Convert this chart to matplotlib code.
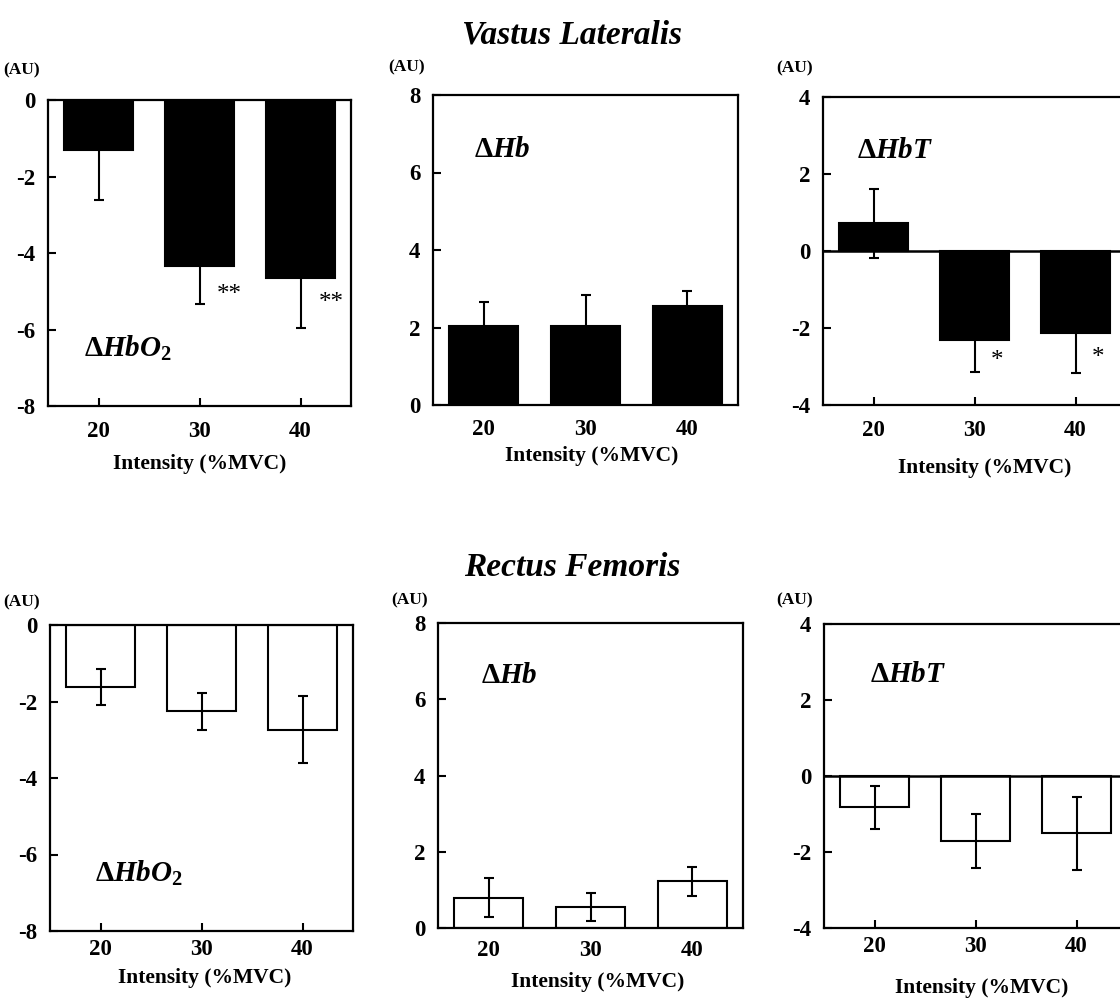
import numpy as np
import matplotlib.pyplot as plt

plt.rcParams['font.family'] = ['Liberation Serif', 'DejaVu Serif']
plt.rcParams['font.weight'] = 'bold'
plt.rcParams['mathtext.fontset'] = 'custom'
plt.rcParams['mathtext.rm'] = 'Liberation Serif:bold'
plt.rcParams['mathtext.it'] = 'Liberation Serif:bold:italic'
plt.rcParams['mathtext.bf'] = 'Liberation Serif:bold'

# intensities (%MVC)
intensity = [20, 30, 40]
tick_labels = ['20', '30', '40']

# Vastus Lateralis
vl_hbo2 = [-1.32, -4.33, -4.65]
vl_hbo2_err = [1.3, 1.0, 1.3]
vl_hb = [2.05, 2.05, 2.55]
vl_hb_err = [0.6, 0.78, 0.38]
vl_hbt = [0.72, -2.31, -2.13]
vl_hbt_err = [0.9, 0.83, 1.03]

# Rectus Femoris
rf_hbo2 = [-1.62, -2.26, -2.74]
rf_hbo2_err = [0.48, 0.48, 0.88]
rf_hb = [0.8, 0.55, 1.22]
rf_hb_err = [0.52, 0.36, 0.38]
rf_hbt = [-0.82, -1.71, -1.51]
rf_hbt_err = [0.57, 0.71, 0.96]

W, H = 1120, 998
fig = plt.figure(figsize=(W / 100, H / 100), dpi=100)


def px_rect(l, t, r, b):
    return [l / W, 1 - b / H, (r - l) / W, (b - t) / H]


def panel(rect, vals, errs, ylim, yticks, fill, label, label_xy, xlab_xy, au_xy, xpad, zero=False):
    ax = fig.add_axes(px_rect(*rect))
    ax.bar(intensity, vals, width=6.8, color=fill, edgecolor='black', linewidth=1.5, zorder=2)
    ax.errorbar(intensity, vals, yerr=errs, fmt='none', ecolor='black', elinewidth=1.5,
                capsize=3.5, capthick=1.5, zorder=3 if fill == 'white' else 1)
    if zero:
        ax.axhline(0, color='black', lw=1.8, zorder=4)
    ax.set_xlim(15, 45)
    ax.set_ylim(*ylim)
    ax.set_yticks(yticks)
    ax.set_yticklabels([str(t) for t in yticks])
    ax.set_xticks(intensity)
    ax.set_xticklabels(tick_labels)
    ax.tick_params(direction='in', length=6, width=1.5, labelsize=16.5, top=False, right=False)
    ax.tick_params(axis='x', pad=xpad)
    ax.tick_params(axis='y', pad=9)
    for s in ax.spines.values():
        s.set_linewidth(1.6)
    ax.text(label_xy[0], label_xy[1], label, fontsize=21, ha='left', va='center')
    fig.text(xlab_xy[0] / W, 1 - xlab_xy[1] / H, 'Intensity (%MVC)', fontsize=15.5,
             ha='center', va='center', fontweight='bold')
    fig.text(au_xy[0] / W, 1 - au_xy[1] / H, '(AU)', fontsize=12.5, ha='center', va='center',
             fontweight='bold')
    return ax


hbo2 = r'$\Delta HbO_2$'
hb = r'$\Delta Hb$'
hbt = r'$\Delta HbT$'

# top row: Vastus Lateralis (black bars)
a = panel((48, 100, 351, 406), vl_hbo2, vl_hbo2_err, (-8, 0), [0, -2, -4, -6, -8], 'black',
          hbo2, (18.6, -6.5), (200, 464), (22, 70), 11)
a.text(32.9, -5.1, '**', fontsize=18, fontweight='normal', ha='center', va='center')
a.text(43.0, -5.3, '**', fontsize=18, fontweight='normal', ha='center', va='center')

panel((433, 95, 738, 405), vl_hb, vl_hb_err, (0, 8), [0, 2, 4, 6, 8], 'black',
      hb, (19.0, 6.6), (592, 456), (407, 67), 10)

c = panel((823, 97, 1126, 405), vl_hbt, vl_hbt_err, (-4, 4), [-4, -2, 0, 2, 4], 'black',
          hbt, (18.4, 2.62), (985, 468), (795, 68), 11, zero=True)
c.text(32.2, -2.85, '*', fontsize=18, fontweight='normal', ha='center', va='center')
c.text(42.2, -2.77, '*', fontsize=18, fontweight='normal', ha='center', va='center')

# bottom row: Rectus Femoris (white bars)
panel((50, 625, 353, 931), rf_hbo2, rf_hbo2_err, (-8, 0), [0, -2, -4, -6, -8], 'white',
      hbo2, (19.5, -6.5), (205, 978), (22, 602), 6)
panel((438, 623, 743, 928), rf_hb, rf_hb_err, (0, 8), [0, 2, 4, 6, 8], 'white',
      hb, (19.2, 6.63), (598, 982), (410, 600), 9)
panel((824, 624, 1127, 928), rf_hbt, rf_hbt_err, (-4, 4), [-4, -2, 0, 2, 4], 'white',
      hbt, (19.6, 2.66), (982, 988), (795, 600), 6, zero=True)

fig.text(572 / W, 1 - 35 / H, 'Vastus Lateralis', fontsize=24, fontweight='bold', style='italic',
         ha='center', va='center')
fig.text(572 / W, 1 - 567 / H, 'Rectus Femoris', fontsize=24, fontweight='bold', style='italic',
         ha='center', va='center')

fig.savefig('out.png', dpi=100)
